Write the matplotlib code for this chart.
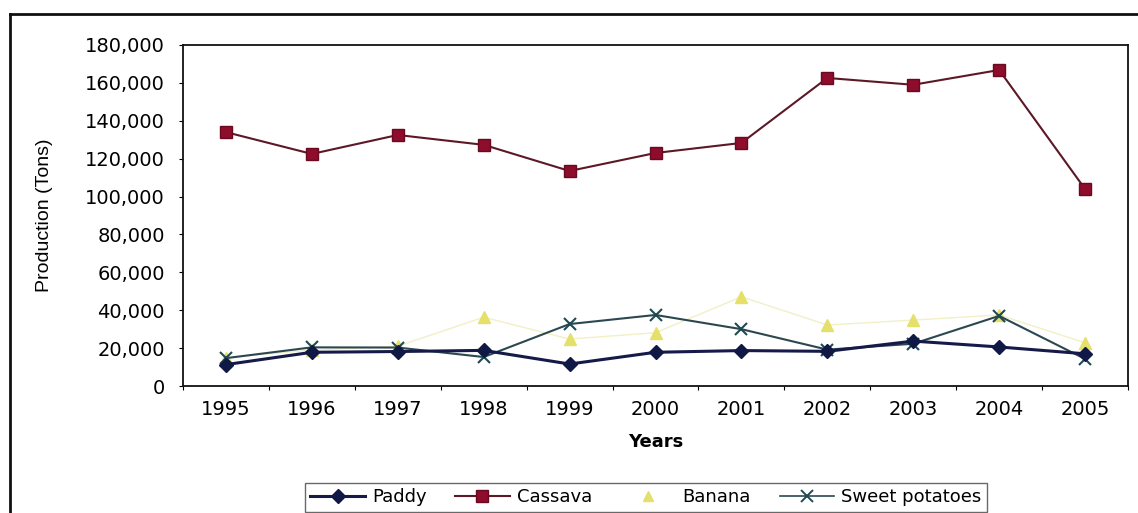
import matplotlib.pyplot as plt
from matplotlib.lines import Line2D
from matplotlib.ticker import FuncFormatter

years = ['1995', '1996', '1997', '1998', '1999', '2000', '2001', '2002', '2003', '2004', '2005']

paddy = [11300, 17800, 18200, 18800, 11600, 17800, 18700, 18300, 23700, 20600, 17000]
cassava = [134000, 122500, 132500, 127300, 113500, 123000, 128300, 162600, 159000, 166800, 104000]
banana = [15000, 19000, 21000, 36300, 24800, 28100, 47100, 32200, 34800, 37500, 22800]
sweet_potatoes = [14700, 20400, 20300, 15300, 32700, 37500, 30000, 19200, 22300, 37000, 14300]

plt.rcParams['font.family'] = ['DejaVu Sans']

fig = plt.figure(figsize=(11.38, 5.13), dpi=100)
ax = fig.add_axes([183 / 1138, 1 - 386 / 513, 945 / 1138, 341 / 513])

x = list(range(len(years)))

ax.plot(x, banana, color='#f1f0c6', lw=1.0, zorder=2)
ax.plot(x, banana, ls='none', marker='^', ms=8, color='#e4e06a', mec='#e4e06a', zorder=3)
ax.plot(x, sweet_potatoes, color='#2b4850', lw=1.5, marker='x', ms=9, mew=1.5, mec='#1f4a52', zorder=4)
ax.plot(x, paddy, color='#161a48', lw=2.2, marker='D', ms=7, mfc='#101845', mec='#101845', zorder=5)
ax.plot(x, cassava, color='#5c1826', lw=1.5, marker='s', ms=8, mfc='#8e0c2c', mec='#6a0a20', zorder=5)

ax.set_xlim(-0.5, len(years) - 0.5)
ax.set_ylim(0, 180000)
ax.set_yticks(range(0, 180001, 20000))
ax.yaxis.set_major_formatter(FuncFormatter(lambda v, p: f'{int(v):,}'))

# year labels sit between the boundary ticks
ax.set_xticks([i - 0.5 for i in range(len(years) + 1)])
ax.set_xticklabels([])
ax.set_xticks(x, minor=True)
ax.set_xticklabels(years, minor=True)
ax.tick_params(axis='x', which='major', direction='out', length=3, width=0.8)
ax.tick_params(axis='x', which='minor', length=0, pad=10, labelsize=14)
ax.tick_params(axis='y', direction='out', length=3, width=0.8, pad=10, labelsize=14)

for s in ax.spines.values():
    s.set_linewidth(1.3)
    s.set_color('#111111')

ax.set_xlabel('Years', fontsize=13, fontweight='bold', labelpad=10)
ax.set_ylabel('Production (Tons)', fontsize=14, family='Liberation Sans')
ax.yaxis.set_label_coords(-0.138, 0.5)

handles = [
    Line2D([], [], color='#161a48', lw=2.2, marker='D', ms=7, mfc='#101845', mec='#101845'),
    Line2D([], [], color='#5c1826', lw=1.5, marker='s', ms=8, mfc='#8e0c2c', mec='#6a0a20'),
    Line2D([], [], ls='none', marker='^', ms=7, color='#e4e06a'),
    Line2D([], [], color='#2b4850', lw=1.2, marker='x', ms=8, mew=1.4, mec='#1f4a52'),
]
leg = fig.legend(handles, ['Paddy', 'Cassava', 'Banana', 'Sweet potatoes'],
                 loc='upper left', bbox_to_anchor=(296 / 1138, 1 - 474 / 513),
                 ncol=4, fontsize=13, frameon=True, fancybox=False,
                 handlelength=3.0, handletextpad=0.4, columnspacing=1.6,
                 borderpad=0.3)
leg.get_frame().set_edgecolor('#444444')
leg.get_frame().set_linewidth(1.0)

# outer chart border
fig.add_artist(Line2D([10 / 1138, 10 / 1138], [0, 1 - 14 / 513], transform=fig.transFigure,
                      color='#111111', lw=2))
fig.add_artist(Line2D([10 / 1138, 1], [1 - 14 / 513, 1 - 14 / 513], transform=fig.transFigure,
                      color='#111111', lw=2))

fig.savefig('out.png', dpi=100)
